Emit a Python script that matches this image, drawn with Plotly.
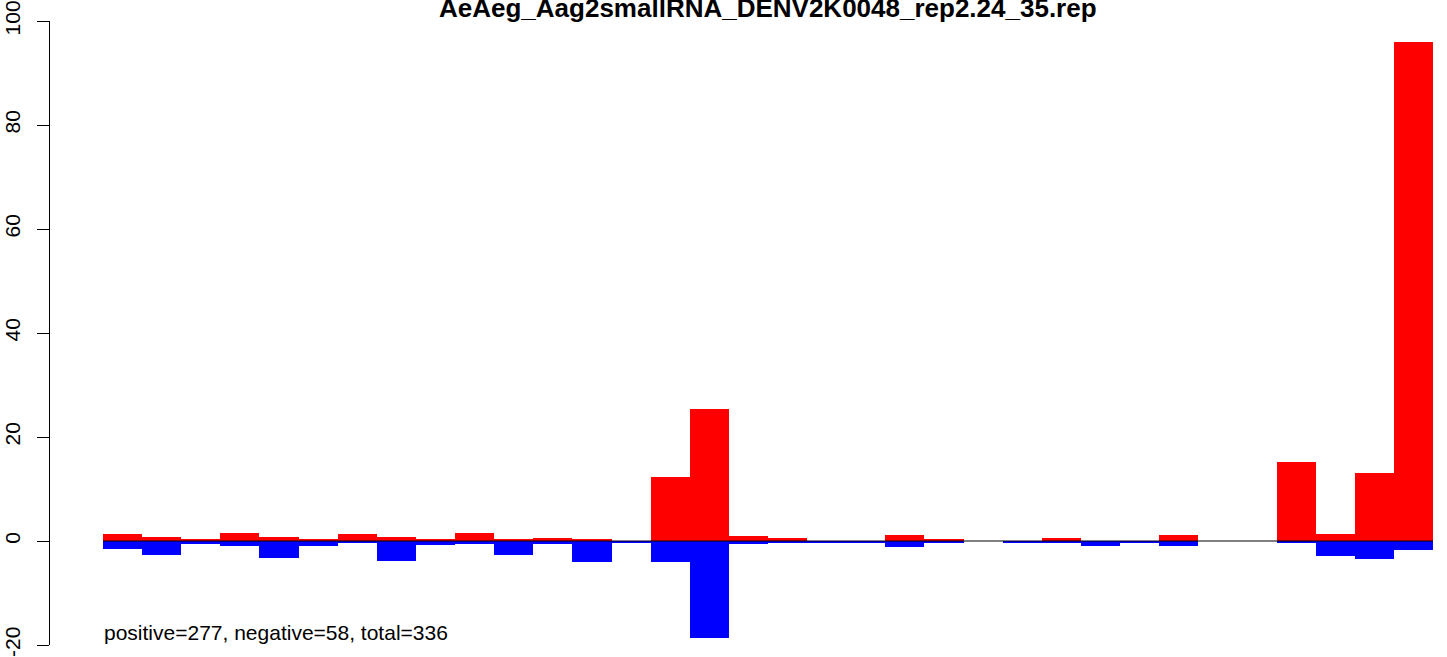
import plotly.graph_objects as go

title_text = "AeAeg_Aag2smallRNA_DENV2K0048_rep2.24_35.rep"
summary_text = "positive=277, negative=58, total=336"

positions = list(range(1, 35))
positive = [1.3, 0.8, 0.2, 1.5, 0.8, 0.2, 1.3, 0.8, 0.4, 1.5,
            0.4, 0.6, 0.4, 0.0, 12.3, 25.3, 1.0, 0.6, 0.0, 0.0,
            1.2, 0.2, 0.0, 0.0, 0.6, 0.0, 0.0, 1.2, 0.0, 0.0,
            15.1, 1.4, 13.1, 96.0]
negative = [-1.5, -2.7, -0.6, -1.0, -3.2, -1.0, -0.4, -3.8, -0.8, -0.6,
            -2.7, -0.6, -4.0, -0.2, -4.0, -18.6, -0.6, -0.2, -0.3, -0.3,
            -1.2, -0.4, 0.0, -0.3, -0.4, -1.0, -0.2, -1.0, 0.0, 0.0,
            -0.3, -2.8, -3.5, -1.7]
y_ticks = [-20, 0, 20, 40, 60, 80, 100]

FONT = "Liberation Sans, Arial, Helvetica, sans-serif"

fig = go.Figure()

# baseline under the bars (visible where both values are zero)
x0 = positions[0] - 0.5
x1 = positions[-1] + 0.5
fig.add_trace(go.Scatter(x=[x0, x1], y=[0, 0], mode="lines",
                         line=dict(color="#000000", width=1),
                         hoverinfo="skip", showlegend=False))

fig.add_trace(go.Bar(x=positions, y=positive, width=1.0,
                     marker=dict(color="#FF0000", line=dict(width=0)),
                     showlegend=False))
fig.add_trace(go.Bar(x=positions, y=negative, width=1.0,
                     marker=dict(color="#0000FF", line=dict(width=0)),
                     showlegend=False))

px_per_unit = 39.118
fig.update_layout(
    width=1447, height=657,
    margin=dict(l=50, r=0, t=21, b=12, autoexpand=False),
    paper_bgcolor="white", plot_bgcolor="white",
    barmode="overlay", bargap=0,
    font=dict(family=FONT, size=21, color="black"),
    xaxis=dict(range=[x0 - 53 / px_per_unit, x1 + 14 / px_per_unit],
               visible=False, showgrid=False, zeroline=False,
               automargin=False),
    yaxis=dict(range=[-20, 100], tickvals=y_ticks,
               ticktext=[str(v) for v in y_ticks],
               tickangle=-90, ticks="outside", ticklen=12, tickwidth=1,
               tickcolor="black", showline=True, linecolor="black",
               linewidth=1, showgrid=False, zeroline=False,
               automargin=False, ticklabelstandoff=9,
               ticklabeloverflow="allow",
               tickfont=dict(family=FONT, size=21, color="black")),
    annotations=[
        dict(text="<b>" + title_text + "</b>", xref="x", yref="paper",
             x=(x0 + x1) / 2, y=1, xanchor="center", yanchor="bottom",
             yshift=-3, showarrow=False, borderpad=0,
             font=dict(family=FONT, size=26, color="black")),
        dict(text=summary_text, xref="x", yref="paper",
             x=x0, y=0, xanchor="left", yanchor="bottom",
             showarrow=False, borderpad=0,
             font=dict(family=FONT, size=21, color="black")),
    ],
)

fig.write_html("out.html",
               config={"displayModeBar": False},
               post_script="document.body.style.margin='0px';")
